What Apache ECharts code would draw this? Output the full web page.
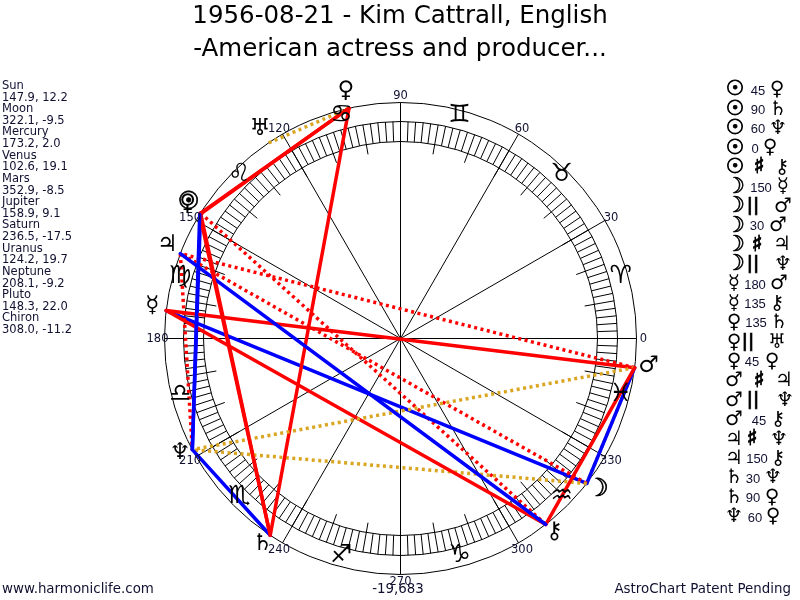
<!DOCTYPE html>
<html><head><meta charset="utf-8">
<style>html,body{margin:0;padding:0;background:#fff}#c{width:800px;height:600px}</style>
<script src="https://cdn.jsdelivr.net/npm/echarts@6/dist/echarts.min.js"></script>
</head><body><div id="c"></div>
<script>
const titleLines = ["1956-08-21 - Kim Cattrall, English", "-American actress and producer..."];
const planetNames = ["Sun","Moon","Mercury","Venus","Mars","Jupiter","Saturn","Uranus","Neptune","Pluto","Chiron"];
const planetLons = [147.9,322.1,173.2,102.6,352.9,158.9,236.5,124.2,208.1,148.3,308.0];
const planetLats = [12.2,-9.5,2.0,19.1,-8.5,9.1,-17.5,19.7,-9.2,22.0,-11.2];
const planetGlyphs = ["\u2609","\u263D","\u263F","\u2640","\u2642","\u2643","\u2644","\u2645","\u2646","\u2640","\u26B7"];
const signGlyphs = ["\u2648","\u2649","\u264A","\u264B","\u264C","\u264D","\u264E","\u264F","\u2650","\u2651","\u2652","\u2653"];
const degreeLabels = [0,30,60,90,120,150,180,210,240,270,300,330];
const aspectFrom = ["Sun","Sun","Sun","Sun","Sun","Moon","Moon","Moon","Moon","Moon","Mercury","Mercury","Venus","Venus","Venus","Mars","Mars","Mars","Jupiter","Jupiter","Saturn","Saturn","Neptune"];
const aspectKind = ["45","90","60","0","#","150","||","30","#","||","180","135","135","||","45","#","||","45","#","150","30","90","60"];
const aspectTo = ["Venus","Saturn","Neptune","Pluto","Chiron","Mercury","Mars","Mars","Jupiter","Neptune","Mars","Chiron","Saturn","Uranus","Pluto","Jupiter","Neptune","Chiron","Neptune","Chiron","Neptune","Pluto","Pluto"];
const footerLeft = "www.harmoniclife.com";
const footerMid = "-19,683";
const footerRight = "AstroChart Patent Pending";

// layout (not data)
const kindX = [758,758,758,755,759,761,753,757,757,753,755,755,756,748,752,759,753,759,752,757,753,753,755];
const toX = [777,778,778,770,782,783,783,778,782,783,779,777,779,777,772,784,785,778,779,778,773,772,773];
const R = {outer:236, ringOut:217, ringIn:197, tickIn:187, planet:250, sign:228, label:243};
const C = {red:"#ff0000", blue:"#0000ff", gold:"#daa520", ink:"#000000", text:"#101030"};
const GLYPH_FONT = '"DejaVu Sans"';
const TEXT_FONT = '"DejaVu Sans"';

const lonOf = n => planetLons[planetNames.indexOf(n)];
const glyphOf = n => planetGlyphs[planetNames.indexOf(n)];

function aspectStyle(k){
  if (k==="#") return {color:C.red,width:3.5,type:[3,3.5]};
  if (k==="||") return {color:C.gold,width:3.5,type:[3,3.5]};
  if (k==="60"||k==="30"||k==="150") return {color:C.blue,width:3.5,type:"solid"};
  return {color:C.red,width:3.5,type:"solid"};
}
const aspectSeries = aspectFrom.map((f,i)=>{
  const s = aspectStyle(aspectKind[i]);
  return {type:"line",coordinateSystem:"polar",silent:true,showSymbol:false,symbol:"none",clip:false,z:5,
    data:[[R.outer,lonOf(f)],[R.outer,lonOf(aspectTo[i])]],
    lineStyle:{color:s.color,width:s.width,type:s.type,cap:s.type==="solid"?"round":"butt",join:"round"}};
});

const ringTicks = []; for(let a=0;a<360;a+=2) ringTicks.push(a);
const tenTicks = []; for(let a=0;a<360;a+=10) tenTicks.push(a);

function segSeries(data, r0, r1, z){
  return {type:"custom",coordinateSystem:"polar",silent:true,z:z||2,clip:false,
    data:data.map(a=>[r1,a]),
    renderItem(p,api){
      const a=api.value(1);
      const p0=api.coord([r0,a]),p1=api.coord([r1,a]);
      return {type:"line",shape:{x1:p0[0],y1:p0[1],x2:p1[0],y2:p1[1]},style:{stroke:C.ink,lineWidth:1,fill:null}};
    }};
}
function circleSeries(r){
  return {type:"custom",coordinateSystem:"polar",silent:true,z:2,clip:false,data:[[r,0]],
    renderItem(p,api){
      const c=api.coord([0,0]);
      const e=api.coord([api.value(0),0]);
      return {type:"circle",shape:{cx:c[0],cy:c[1],r:e[0]-c[0]},style:{stroke:C.ink,lineWidth:1,fill:"none"}};
    }};
}
const heavy = t => (t==="\u2609"||t==="\u263D");
function textSeries(items, opts){
  return {type:"custom",coordinateSystem:"polar",silent:true,z:opts.z||6,clip:false,
    data:items.map(it=>[it.r,it.a]),
    renderItem(p,api){
      const it=items[p.dataIndex];
      const pt=api.coord([it.r,it.a]);
      const h=opts.heavy&&heavy(it.t);
      return {type:"text",x:pt[0],y:pt[1]+(opts.dy||0),style:{text:it.t,fill:opts.color,font:h?opts.heavy:opts.font,textAlign:"center",textVerticalAlign:"middle",stroke:h?opts.color:null,lineWidth:h?0.7:0}};
    }};
}

const planetItems = planetGlyphs.map((g,i)=>({r:R.planet,a:planetLons[i],t:g}));
const signItems = signGlyphs.map((g,i)=>({r:R.sign,a:15+30*i,t:g}));
const degItems = degreeLabels.map(d=>({r:R.label,a:d,t:String(d)}));

const graphic = [];
const addText=(x,y,t,font,fill,align,stroke)=>graphic.push({type:"text",x,y,silent:true,z:10,
  style:{text:t,font,fill:fill||C.text,textAlign:align||"left",textVerticalAlign:"middle",stroke:stroke?(fill||C.text):null,lineWidth:stroke||0}});

// left panel
planetNames.forEach((n,i)=>{
  addText(2,86+23.24*i,n,'11.5px '+TEXT_FONT);
  addText(2,97.6+23.24*i,planetLons[i].toFixed(1)+", "+planetLats[i].toFixed(1),'11.5px '+TEXT_FONT);
});
// right panel
aspectFrom.forEach((f,i)=>{
  const y=90+19.41*i;
  const k=aspectKind[i];
  const g=glyphOf(f);
  if(g==="\u2609") addText(735,y,g,'21px '+GLYPH_FONT,C.ink,"center",0.8);
  else if(g==="\u263D") addText(735,y,g,'22px '+GLYPH_FONT,C.ink,"center",0.6);
  else addText(734,y,g,'20px '+GLYPH_FONT,C.ink,"center");
  if(k==="#") addText(kindX[i],y,"\u266F",'bold 22px '+GLYPH_FONT,C.ink,"center",1);
  else if(k==="||") addText(kindX[i],y,"||",'bold 17px '+GLYPH_FONT,C.ink,"center",0.5);
  else addText(kindX[i],y+1,k,'13px "Liberation Sans"',C.text,"center");
  addText(toX[i],y,glyphOf(aspectTo[i]),'20px '+GLYPH_FONT,C.ink,"center");
});
// footer
addText(2,590,footerLeft,'13.4px '+TEXT_FONT);
addText(398,590,footerMid,'13.4px '+TEXT_FONT,C.text,"center");
addText(791,590,footerRight,'13.4px '+TEXT_FONT,C.text,"right");

const chart = echarts.init(document.getElementById("c"),null,{renderer:"canvas"});
chart.setOption({
  animation:false,
  backgroundColor:"#fff",
  title:{text:titleLines.join("\n"),left:"center",top:-5,textStyle:{fontFamily:"DejaVu Sans",fontWeight:"normal",fontSize:24.5,lineHeight:33,color:"#000"}},
  polar:{center:[400.5,338.5],radius:300},
  angleAxis:{type:"value",min:0,max:360,startAngle:0,clockwise:false,show:false},
  radiusAxis:{type:"value",min:0,max:300,show:false},
  graphic,
  series:[
    circleSeries(R.outer),circleSeries(R.ringOut),circleSeries(R.ringIn),
    segSeries(ringTicks,R.ringIn,R.ringOut),
    segSeries(tenTicks,R.tickIn,R.ringIn),
    segSeries(degreeLabels,0,R.outer),
    textSeries(signItems,{font:'25px '+GLYPH_FONT,color:C.ink,dy:-3}),
    textSeries(planetItems,{font:'23px '+GLYPH_FONT,heavy:'25px '+GLYPH_FONT,color:C.ink,dy:-3}),
    textSeries(degItems,{font:'11.5px '+TEXT_FONT,color:C.text,dy:1}),
    ...aspectSeries
  ]
});
</script></body></html>
